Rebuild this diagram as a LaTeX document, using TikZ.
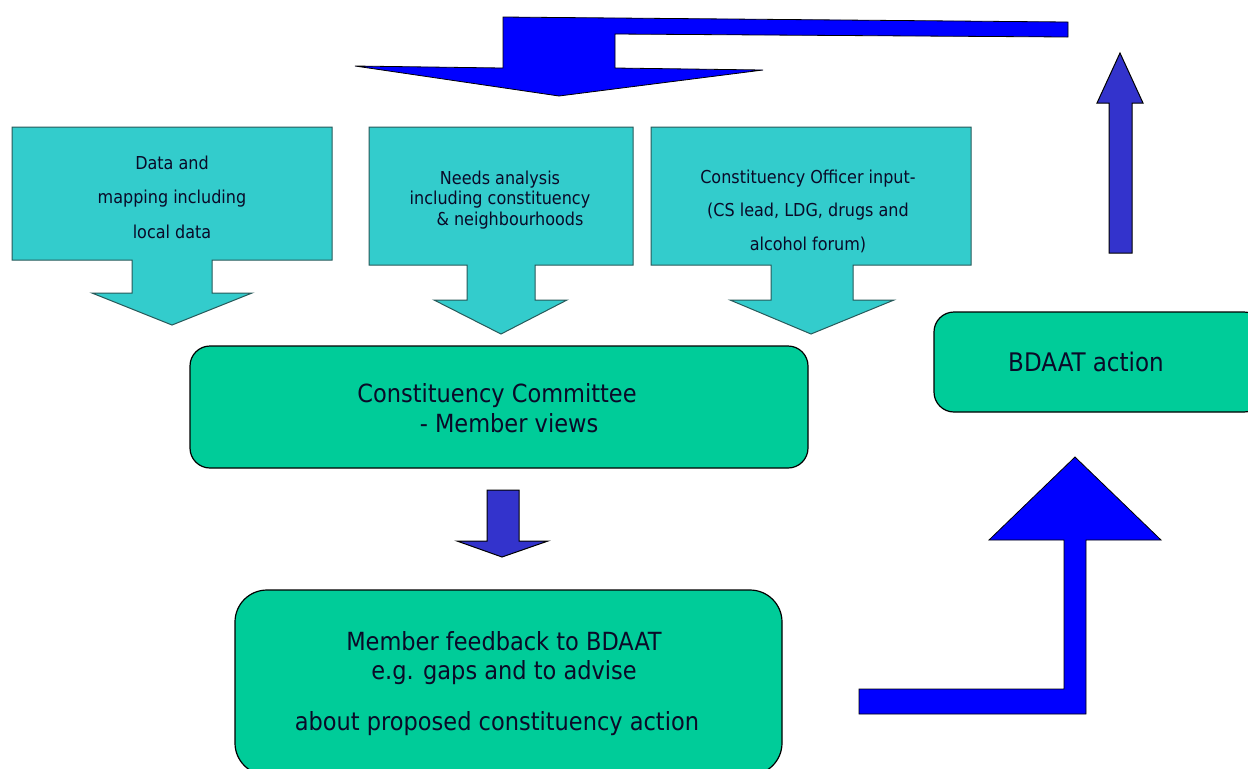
\documentclass[tikz,border=0pt]{standalone}
\usepackage{fontspec}
\setmainfont{DejaVu Sans Condensed}
\definecolor{cyanfill}{RGB}{51,204,204}
\definecolor{cyanline}{RGB}{40,90,90}
\definecolor{greenfill}{RGB}{0,204,153}
\definecolor{bigblue}{RGB}{0,0,255}
\definecolor{smallblue}{RGB}{51,51,204}
\definecolor{textcol}{RGB}{10,10,40}
\begin{document}
\begin{tikzpicture}[x=0.5pt,y=-0.5pt,
  cyanshape/.style={fill=cyanfill, draw=cyanline, line width=0.5pt},
  greenbox/.style={fill=greenfill, draw=black, line width=0.6pt},
  bigarrow/.style={fill=bigblue, draw=black, line width=0.4pt, line join=miter},
  smallarrow/.style={fill=smallblue, draw=black, line width=0.5pt},
  smalltext/.style={text=textcol, align=center, inner sep=0pt},
  bigtext/.style={text=textcol, align=center, inner sep=0pt},
]
\useasboundingbox (0,0) rectangle (1248,768);
\fill[white] (0,0) rectangle (1248,768);

% top bent arrow
\path[bigarrow] (503,17) -- (1068,22) -- (1068,37) -- (615,34) -- (615,68)
  -- (763,70) -- (559,96) -- (355,66) -- (503,68) -- cycle;

% cyan callout boxes
\path[cyanshape] (12,127) -- (332,127) -- (332,260) -- (212,260) -- (212,293)
  -- (252,293) -- (172,325) -- (92,293) -- (132,293) -- (132,260) -- (12,260) -- cycle;
\path[cyanshape] (369,127) -- (633,127) -- (633,265) -- (535,265) -- (535,300)
  -- (567,300) -- (501,334) -- (434,300) -- (467,300) -- (467,265) -- (369,265) -- cycle;
\path[cyanshape] (651,127) -- (971,127) -- (971,265) -- (853,265) -- (853,300)
  -- (894,300) -- (811,334) -- (730,300) -- (771,300) -- (771,265) -- (651,265) -- cycle;

\node[smalltext, font=\fontsize{8.9pt}{17.25pt}\selectfont] (t1) at (172,197)
  {Data and\\mapping including\\local data};
\node[smalltext, font=\fontsize{8.9pt}{10.25pt}\selectfont] (t2) at (500,200)
  {Needs analysis\\including constituency\\\hspace*{10pt}\&~neighbourhoods};
\node[smalltext, font=\fontsize{8.9pt}{16.75pt}\selectfont] (t3) at (808,211)
  {Constituency Officer input-\\(CS lead, LDG, drugs and\\alcohol forum)};

% green boxes
\node[greenbox, rounded corners=10pt, minimum width=309pt, minimum height=61pt] (cc) at (499,407) {};
\node[bigtext, font=\fontsize{12.5pt}{15pt}\selectfont] (cctext) at (497,408)
  {Constituency Committee\\\hspace*{12pt}- Member views};

\node[greenbox, rounded corners=16pt, minimum width=273.5pt, minimum height=92.5pt] (fb) at (508.5,682.5) {};
\node[bigtext, font=\fontsize{12.5pt}{14.5pt}\selectfont] (fbtext) at (497,684)
  {\hspace*{7pt}Member feedback to BDAAT\\\hspace*{7pt}e.g. gaps and to advise\\[11pt]about proposed constituency action};

\node[greenbox, rounded corners=10pt, minimum width=165pt, minimum height=50pt] (bd) at (1099,362) {};
\node[bigtext, font=\fontsize{12.8pt}{15pt}\selectfont] (bdtext) at (1086,362) {BDAAT action};

% small down arrow
\path[smallarrow] (487,490) -- (519,490) -- (519,541) -- (548,541) -- (502,557)
  -- (457,541) -- (487,541) -- cycle;

% small up arrow
\path[smallarrow] (1109,253) -- (1132,253) -- (1132,103) -- (1143,103) -- (1120,53)
  -- (1097,103) -- (1109,103) -- cycle;

% bottom right bent arrow
\path[bigarrow] (859,689) -- (1064,689) -- (1064,540) -- (989,540) -- (1075,457)
  -- (1161,540) -- (1086,540) -- (1086,714) -- (859,714) -- cycle;
\end{tikzpicture}
\end{document}
